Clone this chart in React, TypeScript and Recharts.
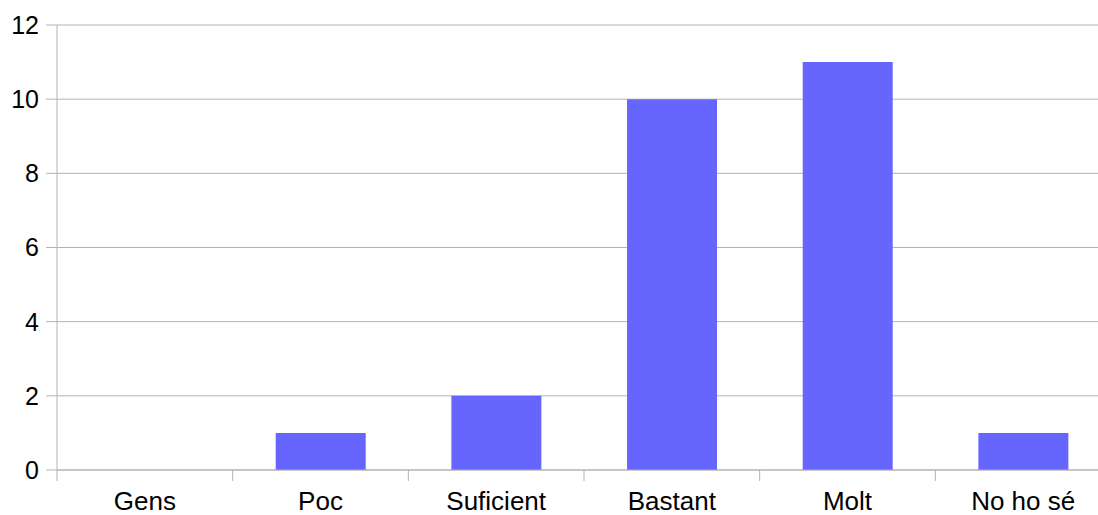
import { BarChart, Bar, XAxis, YAxis, CartesianGrid } from 'recharts';

const categories = ['Gens', 'Poc', 'Suficient', 'Bastant', 'Molt', 'No ho sé'];
const counts = [0, 1, 2, 10, 11, 1];
const yTicks = [0, 2, 4, 6, 8, 10, 12];

const data = categories.map((name, i) => ({ name, value: counts[i] }));

const WIDTH = 1111;
const HEIGHT = 515;
const Y_AXIS_W = 57;
const TICK_SIZE = 11;
const X_TICK_MARGIN = 11;
const GRID = '#b3b3b3';
const FONT = '"Liberation Sans", Arial, sans-serif';

const band = (WIDTH - Y_AXIS_W) / categories.length;

// category label at the band centre, tick mark at the band's left edge
function CategoryTick(props: any) {
  const { x, y, payload } = props;
  const lineBottom = y - X_TICK_MARGIN;
  const lineTop = lineBottom - TICK_SIZE;
  return (
    <g>
      <line x1={x - band / 2} x2={x - band / 2} y1={lineTop} y2={lineBottom} stroke={GRID} strokeWidth={1} />
      <text x={x} y={y} dy="0.71em" textAnchor="middle" fill="#000" fontSize={26} fontFamily={FONT}>
        {payload.value}
      </text>
    </g>
  );
}

export default function App() {
  return (
    <div style={{ position: 'fixed', left: 0, top: 0, width: 1098, height: HEIGHT, overflow: 'hidden', background: '#fff' }}>
      <BarChart
        width={WIDTH}
        height={HEIGHT}
        data={data}
        margin={{ top: 25, right: 0, bottom: 0, left: 0 }}
        barCategoryGap="24.5%"
      >
        <CartesianGrid vertical={false} stroke={GRID} />
        <XAxis
          dataKey="name"
          height={45}
          axisLine={{ stroke: GRID }}
          tickLine={false}
          tickSize={TICK_SIZE}
          tickMargin={X_TICK_MARGIN}
          tick={<CategoryTick />}
          interval={0}
        />
        <YAxis
          width={Y_AXIS_W}
          domain={[0, 12]}
          ticks={yTicks}
          axisLine={{ stroke: GRID }}
          tickLine={{ stroke: GRID }}
          tickSize={TICK_SIZE}
          tickMargin={7}
          tick={{ fill: '#000', fontSize: 25, fontFamily: FONT }}
        />
        <Bar dataKey="value" fill="#6666ff" isAnimationActive={false} />
      </BarChart>
    </div>
  );
}
